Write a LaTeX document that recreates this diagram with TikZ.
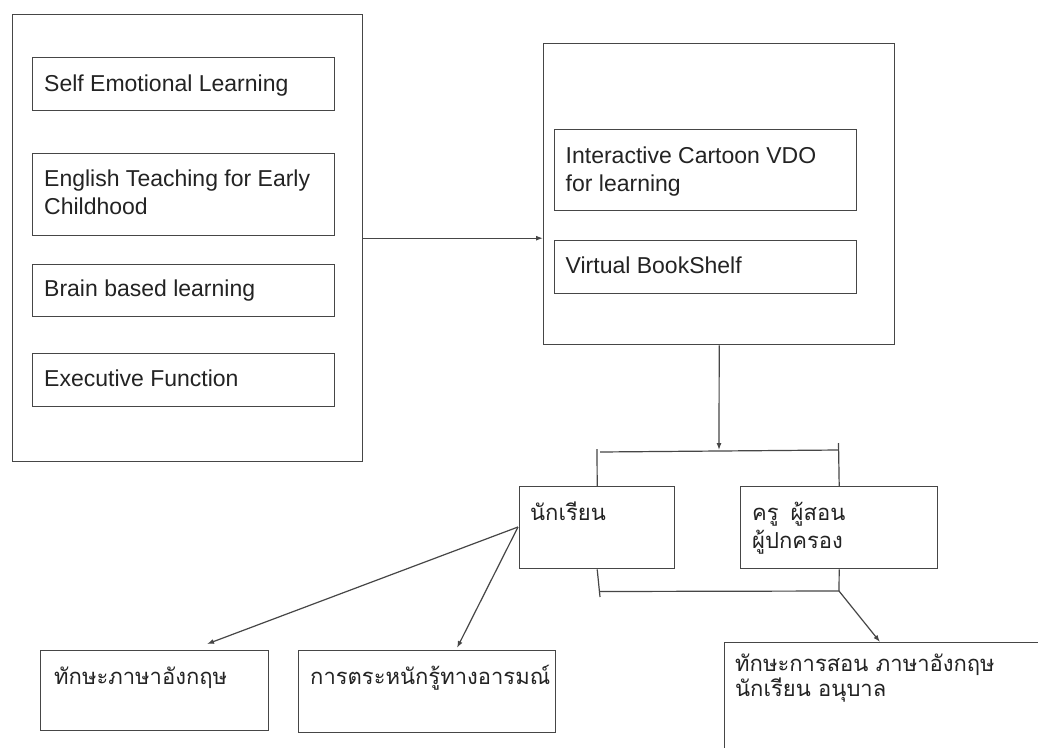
\documentclass[tikz,border=0pt]{standalone}
\usepackage{fontspec}
\setmainfont{Liberation Sans}
\newfontfamily\thaifont[Script=Thai]{Loma}
\usetikzlibrary{arrows.meta,calc}
\definecolor{ln}{RGB}{70,70,70}
\definecolor{tx}{RGB}{35,35,35}
\begin{document}
\begin{tikzpicture}[x=1pt,y=-1pt,
  box/.style={draw=ln,line width=1.4pt,rectangle,inner sep=0pt,anchor=north west},
  lbl/.style={anchor=base west,inner sep=0pt,text=tx,font=\fontsize{23}{27}\selectfont},
  tlbl/.style={anchor=base west,inner sep=0pt,text=tx,font=\thaifont\fontsize{22}{28}\selectfont},
  con/.style={draw=ln,line width=1.2pt},
  arr/.style={con,-{Latex[length=7pt,width=5pt]}}]
\useasboundingbox (0,0) rectangle (1038,747);
\clip (0,0) rectangle (1038,747);
\fill[white] (0,0) rectangle (1038,747);
% left group
\node[box,minimum width=350pt,minimum height=447pt] (L) at (12,14) {};
\node[box,minimum width=302pt,minimum height=53pt] (L1) at (32,57) {};
\node[box,minimum width=302pt,minimum height=82pt] (L2) at (32,153) {};
\node[box,minimum width=302pt,minimum height=52pt] (L3) at (32,264) {};
\node[box,minimum width=302pt,minimum height=53pt] (L4) at (32,353) {};
\node[lbl] (t1) at (44,91.5) {Self Emotional Learning};
\node[lbl] (t2a) at (44,186.5) {English Teaching for Early};
\node[lbl] (t2b) at (44,214) {Childhood};
\node[lbl] (t3) at (44,296.5) {Brain based learning};
\node[lbl] (t4) at (44,386.5) {Executive Function};
% right group
\node[box,minimum width=351pt,minimum height=301pt] (R) at (543,43) {};
\node[box,minimum width=302pt,minimum height=81pt] (R1) at (554,129) {};
\node[box,minimum width=302pt,minimum height=53pt] (R2) at (554,240) {};
\node[lbl] (r1a) at (565.5,163.3) {Interactive Cartoon VDO};
\node[lbl] (r1b) at (565.5,191.5) {for learning};
\node[lbl] (r2) at (565.5,273.3) {Virtual BookShelf};
% middle
\node[box,minimum width=155pt,minimum height=82pt] (S) at (519,486) {};
\node[box,minimum width=197pt,minimum height=82pt] (T) at (740,486) {};
\node[tlbl] (s1) at (530,520) {นักเรียน};
\node[tlbl] (ta) at (752,520) {ครู\hspace{12pt}ผู้สอน};
\node[tlbl] (tb) at (752,548) {ผู้ปกครอง};
% bottom
\node[box,minimum width=228pt,minimum height=80pt] (A) at (40,650) {};
\node[box,minimum width=257pt,minimum height=82pt] (B) at (298,650) {};
\node[box,minimum width=340pt,minimum height=130pt] (C) at (724,642) {};
\node[tlbl] (a1) at (54,684) {ทักษะภาษาอังกฤษ};
\node[tlbl] (b1) at (310,684) {การตระหนักรู้ทางอารมณ์};
\node[tlbl] (c1) at (735,671.5) {ทักษะการสอน ภาษาอังกฤษ};
\node[tlbl] (c2) at (735,696.5) {นักเรียน อนุบาล};
% connectors
\coordinate (bt) at (719,450);
\coordinate (btl) at (597,449);
\coordinate (btr) at (838.5,443);
\coordinate (bbl) at (600,597);
\coordinate (bbr) at (839,591);
\coordinate (sw) at (518,527);
\draw[arr] (L.east) -- (R.west |- L.east);
\draw[arr] (R.south) -- (bt);
\draw[con] (600,452) -- (838.5,450);
\draw[con] (btl) -- (S.north);
\draw[con] (btr) -- (T.north);
\draw[con] (S.south) -- (bbl);
\draw[con] (600,591.5) -- (bbr);
\draw[con] (T.south) -- (bbr);
\draw[arr] (bbr) -- ($(C.north west)+(156,0)$);
\draw[arr] (sw) -- ($(A.north west)+(167,-6)$);
\draw[arr] (sw) -- ($(B.north west)+(159,-2)$);
\end{tikzpicture}
\end{document}
